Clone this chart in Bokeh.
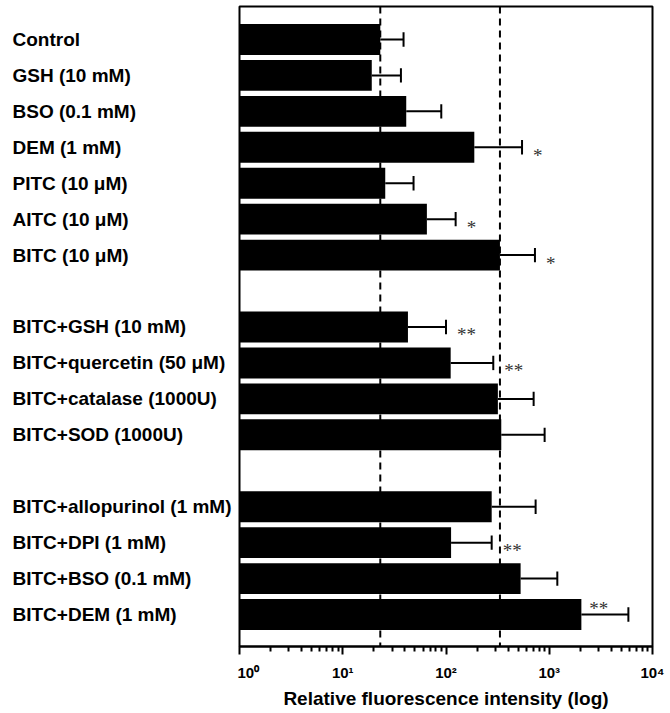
from bokeh.plotting import figure
from bokeh.models import Range1d, FixedTicker, Span, ColumnDataSource
from bokeh.layouts import row
from bokeh.core.properties import value
from bokeh.embed import file_html
from bokeh.resources import INLINE

# ---- data ----
group1 = ["Control", "GSH (10 mM)", "BSO (0.1 mM)", "DEM (1 mM)",
          "PITC (10 \u03bcM)", "AITC (10 \u03bcM)", "BITC (10 \u03bcM)"]
group2 = ["BITC+GSH (10 mM)", "BITC+quercetin (50 \u03bcM)",
          "BITC+catalase (1000U)", "BITC+SOD (1000U)"]
group3 = ["BITC+allopurinol (1 mM)", "BITC+DPI (1 mM)",
          "BITC+BSO (0.1 mM)", "BITC+DEM (1 mM)"]

means = [23.1, 19.1, 41.2, 188, 25.8, 65.3, 333,
         42.8, 111, 318, 343,
         277, 112, 528, 2047]
upper = [38.8, 36.6, 90, 545, 48.5, 124, 727,
         100, 287, 706, 902,
         738, 277, 1197, 5840]
stars = ["", "", "", "*", "", "*", "*",
         "**", "**", "", "",
         "", "**", "", "**"]

tick_values = [1, 10, 100, 1000, 10000]
tick_labels = ["10\u2070", "10\u00b9", "10\u00b2", "10\u00b3", "10\u2074"]

# ---- layout of rows: a blank row between groups ----
labels, ys = [], []
pos = 0
for g in (group1, group2, group3):
    for lab in g:
        labels.append(lab)
        ys.append(pos)
        pos += 1
    pos += 1

FONT = "Liberation Sans"
H = 711
TOP, BOTTOM = 6, 64
LW = 237

yr = Range1d(start=16 + 32 / 36, end=-33 / 36)

# label panel
lp = figure(width=LW, height=H, x_range=Range1d(0, LW), y_range=yr,
            x_axis_location=None, y_axis_location=None,
            toolbar_location=None, output_backend="svg",
            min_border_top=TOP, min_border_bottom=BOTTOM,
            min_border_left=0, min_border_right=0)
lp.outline_line_color = None
lp.grid.visible = False
lsrc = ColumnDataSource(dict(x=[12] * len(labels), y=ys, t=labels))
lp.text(x="x", y="y", text="t", source=lsrc, text_font=value(FONT),
        text_font_style="bold", text_font_size="19px", text_color="black",
        text_align="left", text_baseline="middle")

# main chart
p = figure(width=431, height=H, x_axis_type="log",
           x_range=Range1d(1, 10000), y_range=yr,
           y_axis_location=None, toolbar_location=None, output_backend="svg",
           min_border_top=TOP, min_border_bottom=BOTTOM,
           min_border_left=2, min_border_right=16)
p.grid.visible = False
p.outline_line_color = "black"
p.outline_line_width = 2

for loc in (means[0], means[6]):
    p.add_layout(Span(location=loc, dimension="height", line_color="black",
                      line_width=2, line_dash="7 5", level="underlay"))

src = ColumnDataSource(dict(y=ys, m=means, u=upper, s=stars,
                            c0=[y - 0.2 for y in ys], c1=[y + 0.2 for y in ys]))
p.hbar(y="y", left=1, right="m", height=0.86, source=src,
       fill_color="black", line_color=None)
p.segment(x0="m", y0="y", x1="u", y1="y", source=src,
          line_color="black", line_width=2)
p.segment(x0="u", y0="c0", x1="u", y1="c1", source=src,
          line_color="black", line_width=2)

# significance marks
n = len(ys)
regular = [i for i in range(n) if stars[i] and i != n - 1]
ssrc = ColumnDataSource(dict(x=[upper[i] for i in regular],
                             y=[ys[i] for i in regular],
                             t=[stars[i] for i in regular]))
p.text(x="x", y="y", text="t", source=ssrc, x_offset=11, y_offset=8,
       text_font=value("Liberation Serif"), text_font_size="19px",
       text_color="#333333", text_align="left", text_baseline="middle")
if stars[n - 1]:
    lsrc2 = ColumnDataSource(dict(x=[means[n - 1]], y=[ys[n - 1]], t=[stars[n - 1]]))
    p.text(x="x", y="y", text="t", source=lsrc2, x_offset=8, y_offset=-6,
           text_font=value("Liberation Serif"), text_font_size="19px",
           text_color="#333333", text_align="left", text_baseline="middle")

minor = [m * 10 ** d for d in range(4) for m in range(2, 10)]
ax = p.xaxis[0]
ax.ticker = FixedTicker(ticks=tick_values, minor_ticks=minor)
ax.major_label_overrides = {v: l for v, l in zip(tick_values, tick_labels)}
ax.axis_line_width = 2
ax.major_tick_line_width = 2
ax.minor_tick_line_width = 2
ax.major_tick_out = 8
ax.major_tick_in = 0
ax.minor_tick_out = 5
ax.minor_tick_in = 0
ax.major_label_standoff = 9
ax.major_label_text_font = FONT
ax.major_label_text_font_style = "bold"
ax.major_label_text_font_size = "15px"
ax.major_label_text_color = "black"
ax.axis_label = "Relative fluorescence intensity (log)"
ax.axis_label_text_font = FONT
ax.axis_label_text_font_style = "bold"
ax.axis_label_text_font_size = "19px"
ax.axis_label_text_color = "black"
ax.axis_label_standoff = 4

layout = row(lp, p)
open("out.html", "w").write(file_html(layout, INLINE))
